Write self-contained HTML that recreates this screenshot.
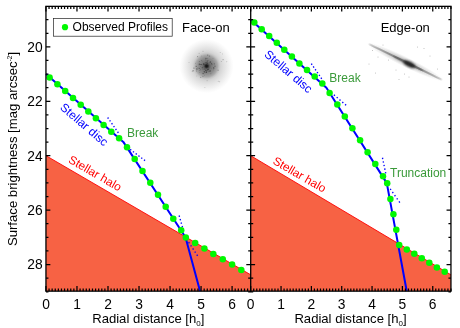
<!DOCTYPE html>
<html><head><meta charset="utf-8"><style>html,body{margin:0;padding:0;background:#fff}svg{display:block;will-change:transform}</style></head><body>
<svg width="460" height="328" viewBox="0 0 460 328">
<defs>
<radialGradient id="gal" cx="50%" cy="50%" r="50%"><stop offset="0" stop-color="#141414"/><stop offset="0.045" stop-color="#242424"/><stop offset="0.1" stop-color="#5c5c5c"/><stop offset="0.18" stop-color="#7a7a7a"/><stop offset="0.3" stop-color="#8e8e8e"/><stop offset="0.4" stop-color="#a8a8a8"/><stop offset="0.46" stop-color="#c4c4c4"/><stop offset="0.52" stop-color="#d4d4d4"/><stop offset="0.62" stop-color="#dfdfdf"/><stop offset="0.76" stop-color="#ececec"/><stop offset="0.9" stop-color="#f8f8f8"/><stop offset="1" stop-color="#ffffff"/></radialGradient>
<radialGradient id="edge" cx="50%" cy="50%" r="50%"><stop offset="0" stop-color="#000" stop-opacity="0.95"/><stop offset="0.15" stop-color="#222" stop-opacity="0.75"/><stop offset="0.5" stop-color="#555" stop-opacity="0.4"/><stop offset="1" stop-color="#999" stop-opacity="0"/></radialGradient>
<radialGradient id="edge2" cx="50%" cy="50%" r="50%"><stop offset="0" stop-color="#555" stop-opacity="0.5"/><stop offset="0.5" stop-color="#777" stop-opacity="0.28"/><stop offset="1" stop-color="#999" stop-opacity="0"/></radialGradient>
<filter id="b1" x="-20%" y="-300%" width="140%" height="700%"><feGaussianBlur stdDeviation="0.7"/></filter>
<filter id="b2" x="-50%" y="-100%" width="200%" height="300%"><feGaussianBlur stdDeviation="1.1"/></filter>
<clipPath id="cl"><rect x="45.95" y="6.35" width="204.75" height="284.8"/></clipPath>
<clipPath id="cr"><rect x="250.7" y="6.35" width="200.25" height="284.8"/></clipPath>
</defs>
<rect width="460" height="328" fill="#fff"/>
<polygon points="46.0,155.7 250.7,274.8 250.7,291.1 46.0,291.1" fill="#f76244"/>
<line x1="46.0" y1="155.7" x2="250.7" y2="274.8" stroke="#ff0000" stroke-width="0.9"/>
<polygon points="250.7,155.7 450.9,274.8 450.9,291.1 250.7,291.1" fill="#f76244"/>
<line x1="250.7" y1="155.7" x2="450.9" y2="274.8" stroke="#ff0000" stroke-width="0.9"/>
<circle cx="206.6" cy="66.1" r="27" fill="url(#gal)"/>
<circle cx="208.9" cy="71.4" r="0.61" fill="#222" opacity="0.28"/><circle cx="199.8" cy="72.7" r="0.37" fill="#222" opacity="0.43"/><circle cx="202.7" cy="67.8" r="0.38" fill="#222" opacity="0.28"/><circle cx="208.7" cy="60.7" r="0.40" fill="#222" opacity="0.33"/><circle cx="214.3" cy="63.8" r="0.58" fill="#222" opacity="0.39"/><circle cx="218.1" cy="70.3" r="0.69" fill="#222" opacity="0.25"/><circle cx="208.4" cy="69.3" r="0.47" fill="#222" opacity="0.54"/><circle cx="201.5" cy="64.6" r="0.61" fill="#222" opacity="0.38"/><circle cx="213.3" cy="69.8" r="0.37" fill="#222" opacity="0.32"/><circle cx="196.4" cy="70.9" r="0.48" fill="#222" opacity="0.45"/><circle cx="203.1" cy="73.5" r="0.67" fill="#222" opacity="0.49"/><circle cx="200.8" cy="64.5" r="0.56" fill="#222" opacity="0.56"/><circle cx="202.9" cy="76.4" r="0.74" fill="#222" opacity="0.20"/><circle cx="205.7" cy="60.0" r="0.41" fill="#222" opacity="0.42"/><circle cx="204.0" cy="64.3" r="0.66" fill="#222" opacity="0.45"/><circle cx="200.7" cy="77.3" r="0.63" fill="#222" opacity="0.32"/><circle cx="196.9" cy="69.0" r="0.69" fill="#222" opacity="0.58"/><circle cx="201.4" cy="60.4" r="0.37" fill="#222" opacity="0.50"/><circle cx="215.0" cy="66.3" r="0.68" fill="#222" opacity="0.35"/><circle cx="202.1" cy="61.1" r="0.36" fill="#222" opacity="0.41"/><circle cx="208.6" cy="69.5" r="0.37" fill="#222" opacity="0.52"/><circle cx="205.5" cy="70.4" r="0.51" fill="#222" opacity="0.55"/><circle cx="202.2" cy="67.7" r="0.57" fill="#222" opacity="0.56"/><circle cx="213.0" cy="58.5" r="0.46" fill="#222" opacity="0.28"/><circle cx="210.2" cy="62.6" r="0.73" fill="#222" opacity="0.30"/><circle cx="205.9" cy="70.9" r="0.44" fill="#222" opacity="0.42"/><circle cx="204.7" cy="75.2" r="0.35" fill="#222" opacity="0.40"/><circle cx="199.4" cy="64.2" r="0.73" fill="#222" opacity="0.49"/><circle cx="199.4" cy="61.5" r="0.62" fill="#222" opacity="0.27"/><circle cx="207.7" cy="55.1" r="0.70" fill="#222" opacity="0.37"/><circle cx="199.9" cy="70.5" r="0.39" fill="#222" opacity="0.47"/><circle cx="208.3" cy="67.9" r="0.43" fill="#222" opacity="0.31"/><circle cx="211.3" cy="68.6" r="0.35" fill="#222" opacity="0.30"/><circle cx="203.0" cy="69.3" r="0.36" fill="#222" opacity="0.56"/><circle cx="210.9" cy="73.8" r="0.45" fill="#222" opacity="0.37"/><circle cx="210.1" cy="71.0" r="0.69" fill="#222" opacity="0.60"/><circle cx="197.8" cy="67.4" r="0.38" fill="#222" opacity="0.29"/><circle cx="204.8" cy="72.6" r="0.68" fill="#222" opacity="0.31"/><circle cx="208.0" cy="65.9" r="0.56" fill="#222" opacity="0.30"/><circle cx="213.8" cy="68.1" r="0.56" fill="#222" opacity="0.59"/><circle cx="201.4" cy="55.9" r="0.45" fill="#222" opacity="0.26"/><circle cx="206.0" cy="62.6" r="0.56" fill="#222" opacity="0.52"/><circle cx="206.4" cy="72.4" r="0.67" fill="#222" opacity="0.59"/><circle cx="209.5" cy="56.1" r="0.68" fill="#222" opacity="0.36"/><circle cx="200.4" cy="66.2" r="0.49" fill="#222" opacity="0.26"/><circle cx="204.9" cy="69.3" r="0.45" fill="#222" opacity="0.49"/><circle cx="193.1" cy="70.7" r="0.72" fill="#222" opacity="0.42"/><circle cx="196.8" cy="76.0" r="0.44" fill="#222" opacity="0.23"/><circle cx="206.7" cy="70.9" r="0.60" fill="#222" opacity="0.57"/><circle cx="193.8" cy="68.1" r="0.61" fill="#222" opacity="0.37"/><circle cx="203.6" cy="63.9" r="0.71" fill="#222" opacity="0.52"/><circle cx="194.8" cy="68.1" r="0.42" fill="#222" opacity="0.37"/><circle cx="207.3" cy="61.1" r="0.74" fill="#222" opacity="0.39"/><circle cx="211.9" cy="64.5" r="0.64" fill="#222" opacity="0.31"/><circle cx="207.7" cy="69.7" r="0.71" fill="#222" opacity="0.53"/><circle cx="207.3" cy="63.2" r="0.74" fill="#222" opacity="0.48"/><circle cx="199.3" cy="64.9" r="0.40" fill="#222" opacity="0.25"/><circle cx="197.6" cy="56.6" r="0.56" fill="#222" opacity="0.40"/><circle cx="210.4" cy="61.7" r="0.68" fill="#222" opacity="0.32"/><circle cx="204.0" cy="71.5" r="0.45" fill="#222" opacity="0.46"/><circle cx="200.7" cy="69.2" r="0.40" fill="#222" opacity="0.57"/><circle cx="199.2" cy="68.3" r="0.58" fill="#222" opacity="0.57"/><circle cx="211.6" cy="63.4" r="0.55" fill="#222" opacity="0.44"/><circle cx="213.6" cy="67.6" r="0.53" fill="#222" opacity="0.31"/><circle cx="206.2" cy="64.4" r="0.42" fill="#222" opacity="0.42"/><circle cx="195.6" cy="63.2" r="0.48" fill="#222" opacity="0.30"/><circle cx="207.2" cy="58.7" r="0.39" fill="#222" opacity="0.45"/><circle cx="204.5" cy="71.6" r="0.66" fill="#222" opacity="0.43"/><circle cx="205.9" cy="58.5" r="0.71" fill="#222" opacity="0.41"/><circle cx="196.2" cy="66.4" r="0.55" fill="#222" opacity="0.49"/><circle cx="189.0" cy="62.4" r="0.45" fill="#444" opacity="0.45"/><circle cx="222.8" cy="59.7" r="0.45" fill="#444" opacity="0.45"/><circle cx="220.2" cy="52.4" r="0.45" fill="#444" opacity="0.45"/><circle cx="204.9" cy="87.6" r="0.45" fill="#444" opacity="0.45"/><circle cx="223.5" cy="59.7" r="0.45" fill="#444" opacity="0.45"/><circle cx="219.7" cy="81.8" r="0.45" fill="#444" opacity="0.45"/><circle cx="192.2" cy="71.4" r="0.45" fill="#444" opacity="0.45"/><circle cx="207.1" cy="80.7" r="0.45" fill="#444" opacity="0.45"/><circle cx="199.1" cy="53.3" r="0.45" fill="#444" opacity="0.45"/><circle cx="222.4" cy="53.9" r="0.45" fill="#444" opacity="0.45"/><circle cx="203.0" cy="51.2" r="0.45" fill="#444" opacity="0.45"/><circle cx="218.2" cy="81.2" r="0.45" fill="#444" opacity="0.45"/><circle cx="226.8" cy="61.8" r="0.45" fill="#444" opacity="0.45"/><circle cx="221.3" cy="61.5" r="0.45" fill="#444" opacity="0.45"/>
<g transform="translate(405.4,61.9) rotate(26.1)"><ellipse cx="0" cy="0" rx="43" ry="5.2" fill="url(#edge2)"/><ellipse cx="0" cy="0" rx="41" ry="1.0" fill="#707070" opacity="0.7" filter="url(#b1)"/><ellipse cx="3" cy="0.2" rx="17" ry="1.6" fill="#555" opacity="0.55" filter="url(#b1)"/><ellipse cx="4.5" cy="0.3" rx="6.5" ry="2.6" fill="#1c1c1c" opacity="0.9" filter="url(#b2)"/></g>
<circle cx="372.5" cy="50.5" r="0.5" fill="#555" opacity="0.45"/><circle cx="388.5" cy="60.0" r="0.5" fill="#555" opacity="0.45"/><circle cx="378.0" cy="57.0" r="0.5" fill="#555" opacity="0.45"/><circle cx="396.0" cy="70.0" r="0.5" fill="#555" opacity="0.45"/><circle cx="404.5" cy="74.0" r="0.5" fill="#555" opacity="0.45"/><circle cx="399.0" cy="79.5" r="0.5" fill="#555" opacity="0.45"/><circle cx="375.5" cy="73.0" r="0.5" fill="#555" opacity="0.45"/><circle cx="417.5" cy="47.0" r="0.5" fill="#555" opacity="0.45"/><circle cx="424.0" cy="48.5" r="0.5" fill="#555" opacity="0.45"/><circle cx="437.5" cy="69.0" r="0.5" fill="#555" opacity="0.45"/><circle cx="409.0" cy="77.0" r="0.5" fill="#555" opacity="0.45"/><circle cx="430.0" cy="56.0" r="0.5" fill="#555" opacity="0.45"/><circle cx="369.0" cy="64.0" r="0.5" fill="#555" opacity="0.45"/><circle cx="383.0" cy="45.0" r="0.5" fill="#555" opacity="0.45"/>
<polyline points="46.0,74.1 123.3,141.9 185.5,237.3 200.0,291.0" fill="none" stroke="#0000ff" stroke-width="2" stroke-linejoin="round"/>
<polyline points="250.7,19.7 326.4,87.7 386.8,183.1 406.7,291.0" fill="none" stroke="#0000ff" stroke-width="2" stroke-linejoin="round"/>
<line x1="107.66" y1="117.50" x2="118.34" y2="132.85" stroke="#0000ff" stroke-width="1.35" stroke-dasharray="1.35 2.12"/>
<line x1="130.16" y1="149.39" x2="145.04" y2="160.61" stroke="#0000ff" stroke-width="1.35" stroke-dasharray="1.35 2.11"/>
<line x1="179.11" y1="215.55" x2="182.49" y2="227.25" stroke="#0000ff" stroke-width="1.35" stroke-dasharray="1.35 2.26"/>
<line x1="188.63" y1="242.13" x2="197.57" y2="255.87" stroke="#0000ff" stroke-width="1.35" stroke-dasharray="1.35 2.41"/>
<line x1="311.32" y1="63.64" x2="321.68" y2="78.76" stroke="#0000ff" stroke-width="1.35" stroke-dasharray="1.35 2.05"/>
<line x1="333.89" y1="94.86" x2="346.11" y2="105.24" stroke="#0000ff" stroke-width="1.35" stroke-dasharray="1.35 2.32"/>
<line x1="382.46" y1="157.74" x2="385.74" y2="173.36" stroke="#0000ff" stroke-width="1.35" stroke-dasharray="1.35 2.30"/>
<line x1="390.21" y1="188.85" x2="399.79" y2="202.55" stroke="#0000ff" stroke-width="1.35" stroke-dasharray="1.35 2.49"/>
<circle cx="49.6" cy="77.4" r="3.25" fill="#00f800"/>
<circle cx="57.4" cy="84.2" r="3.25" fill="#00f800"/>
<circle cx="65.2" cy="91.0" r="3.25" fill="#00f800"/>
<circle cx="73.0" cy="97.9" r="3.25" fill="#00f800"/>
<circle cx="80.7" cy="104.7" r="3.25" fill="#00f800"/>
<circle cx="88.3" cy="111.5" r="3.25" fill="#00f800"/>
<circle cx="95.9" cy="118.3" r="3.25" fill="#00f800"/>
<circle cx="103.6" cy="125.0" r="3.25" fill="#00f800"/>
<circle cx="111.3" cy="131.7" r="3.25" fill="#00f800"/>
<circle cx="119.1" cy="138.2" r="3.25" fill="#00f800"/>
<circle cx="127.0" cy="147.2" r="3.25" fill="#00f800"/>
<circle cx="134.7" cy="159.0" r="3.25" fill="#00f800"/>
<circle cx="142.5" cy="170.9" r="3.25" fill="#00f800"/>
<circle cx="150.3" cy="182.7" r="3.25" fill="#00f800"/>
<circle cx="158.0" cy="194.7" r="3.25" fill="#00f800"/>
<circle cx="165.7" cy="206.8" r="3.25" fill="#00f800"/>
<circle cx="173.3" cy="218.7" r="3.25" fill="#00f800"/>
<circle cx="181.2" cy="230.3" r="3.25" fill="#00f800"/>
<circle cx="185.8" cy="237.6" r="3.25" fill="#00f800"/>
<circle cx="195.2" cy="243.0" r="3.25" fill="#00f800"/>
<circle cx="204.4" cy="248.6" r="3.25" fill="#00f800"/>
<circle cx="213.3" cy="254.0" r="3.25" fill="#00f800"/>
<circle cx="222.8" cy="259.3" r="3.25" fill="#00f800"/>
<circle cx="232.1" cy="264.6" r="3.25" fill="#00f800"/>
<circle cx="241.3" cy="270.0" r="3.25" fill="#00f800"/>
<circle cx="254.3" cy="22.5" r="3.25" fill="#00f800"/>
<circle cx="261.7" cy="29.2" r="3.25" fill="#00f800"/>
<circle cx="269.2" cy="35.9" r="3.25" fill="#00f800"/>
<circle cx="276.8" cy="42.8" r="3.25" fill="#00f800"/>
<circle cx="284.3" cy="49.7" r="3.25" fill="#00f800"/>
<circle cx="291.9" cy="56.6" r="3.25" fill="#00f800"/>
<circle cx="299.4" cy="63.4" r="3.25" fill="#00f800"/>
<circle cx="307.0" cy="70.0" r="3.25" fill="#00f800"/>
<circle cx="314.7" cy="76.6" r="3.25" fill="#00f800"/>
<circle cx="322.3" cy="83.6" r="3.25" fill="#00f800"/>
<circle cx="329.6" cy="93.0" r="3.25" fill="#00f800"/>
<circle cx="337.3" cy="104.5" r="3.25" fill="#00f800"/>
<circle cx="344.8" cy="116.5" r="3.25" fill="#00f800"/>
<circle cx="352.4" cy="128.3" r="3.25" fill="#00f800"/>
<circle cx="360.1" cy="140.3" r="3.25" fill="#00f800"/>
<circle cx="367.6" cy="152.3" r="3.25" fill="#00f800"/>
<circle cx="375.3" cy="164.1" r="3.25" fill="#00f800"/>
<circle cx="383.0" cy="176.2" r="3.25" fill="#00f800"/>
<circle cx="387.2" cy="183.3" r="3.25" fill="#00f800"/>
<circle cx="390.4" cy="199.0" r="3.25" fill="#00f800"/>
<circle cx="393.4" cy="214.3" r="3.25" fill="#00f800"/>
<circle cx="396.3" cy="229.8" r="3.25" fill="#00f800"/>
<circle cx="399.2" cy="245.1" r="3.25" fill="#00f800"/>
<circle cx="406.8" cy="249.5" r="3.25" fill="#00f800"/>
<circle cx="414.3" cy="253.8" r="3.25" fill="#00f800"/>
<circle cx="421.8" cy="258.2" r="3.25" fill="#00f800"/>
<circle cx="429.3" cy="262.8" r="3.25" fill="#00f800"/>
<circle cx="436.9" cy="267.4" r="3.25" fill="#00f800"/>
<circle cx="444.7" cy="271.8" r="3.25" fill="#00f800"/>
<g stroke="#000" stroke-width="1.3" fill="none">
<rect x="45.95" y="6.35" width="405" height="284.8"/>
<line x1="250.7" y1="6.35" x2="250.7" y2="291.15"/>
</g>
<path d="M45.95 291.15v-5.20M45.95 6.35v5.20M49.05 291.15v-2.70M49.05 6.35v2.70M52.15 291.15v-2.70M52.15 6.35v2.70M55.26 291.15v-2.70M55.26 6.35v2.70M58.36 291.15v-2.70M58.36 6.35v2.70M61.46 291.15v-2.70M61.46 6.35v2.70M64.56 291.15v-2.70M64.56 6.35v2.70M67.67 291.15v-2.70M67.67 6.35v2.70M70.77 291.15v-2.70M70.77 6.35v2.70M73.87 291.15v-2.70M73.87 6.35v2.70M76.97 291.15v-5.20M76.97 6.35v5.20M80.08 291.15v-2.70M80.08 6.35v2.70M83.18 291.15v-2.70M83.18 6.35v2.70M86.28 291.15v-2.70M86.28 6.35v2.70M89.38 291.15v-2.70M89.38 6.35v2.70M92.48 291.15v-2.70M92.48 6.35v2.70M95.59 291.15v-2.70M95.59 6.35v2.70M98.69 291.15v-2.70M98.69 6.35v2.70M101.79 291.15v-2.70M101.79 6.35v2.70M104.89 291.15v-2.70M104.89 6.35v2.70M108.00 291.15v-5.20M108.00 6.35v5.20M111.10 291.15v-2.70M111.10 6.35v2.70M114.20 291.15v-2.70M114.20 6.35v2.70M117.30 291.15v-2.70M117.30 6.35v2.70M120.40 291.15v-2.70M120.40 6.35v2.70M123.51 291.15v-2.70M123.51 6.35v2.70M126.61 291.15v-2.70M126.61 6.35v2.70M129.71 291.15v-2.70M129.71 6.35v2.70M132.81 291.15v-2.70M132.81 6.35v2.70M135.92 291.15v-2.70M135.92 6.35v2.70M139.02 291.15v-5.20M139.02 6.35v5.20M142.12 291.15v-2.70M142.12 6.35v2.70M145.22 291.15v-2.70M145.22 6.35v2.70M148.32 291.15v-2.70M148.32 6.35v2.70M151.43 291.15v-2.70M151.43 6.35v2.70M154.53 291.15v-2.70M154.53 6.35v2.70M157.63 291.15v-2.70M157.63 6.35v2.70M160.73 291.15v-2.70M160.73 6.35v2.70M163.84 291.15v-2.70M163.84 6.35v2.70M166.94 291.15v-2.70M166.94 6.35v2.70M170.04 291.15v-5.20M170.04 6.35v5.20M173.14 291.15v-2.70M173.14 6.35v2.70M176.25 291.15v-2.70M176.25 6.35v2.70M179.35 291.15v-2.70M179.35 6.35v2.70M182.45 291.15v-2.70M182.45 6.35v2.70M185.55 291.15v-2.70M185.55 6.35v2.70M188.65 291.15v-2.70M188.65 6.35v2.70M191.76 291.15v-2.70M191.76 6.35v2.70M194.86 291.15v-2.70M194.86 6.35v2.70M197.96 291.15v-2.70M197.96 6.35v2.70M201.06 291.15v-5.20M201.06 6.35v5.20M204.17 291.15v-2.70M204.17 6.35v2.70M207.27 291.15v-2.70M207.27 6.35v2.70M210.37 291.15v-2.70M210.37 6.35v2.70M213.47 291.15v-2.70M213.47 6.35v2.70M216.57 291.15v-2.70M216.57 6.35v2.70M219.68 291.15v-2.70M219.68 6.35v2.70M222.78 291.15v-2.70M222.78 6.35v2.70M225.88 291.15v-2.70M225.88 6.35v2.70M228.98 291.15v-2.70M228.98 6.35v2.70M232.09 291.15v-5.20M232.09 6.35v5.20M235.19 291.15v-2.70M235.19 6.35v2.70M238.29 291.15v-2.70M238.29 6.35v2.70M241.39 291.15v-2.70M241.39 6.35v2.70M244.50 291.15v-2.70M244.50 6.35v2.70M247.60 291.15v-2.70M247.60 6.35v2.70M250.70 291.15v-2.70M250.70 6.35v2.70M250.70 291.15v-5.20M250.70 6.35v5.20M253.73 291.15v-2.70M253.73 6.35v2.70M256.77 291.15v-2.70M256.77 6.35v2.70M259.80 291.15v-2.70M259.80 6.35v2.70M262.84 291.15v-2.70M262.84 6.35v2.70M265.87 291.15v-2.70M265.87 6.35v2.70M268.90 291.15v-2.70M268.90 6.35v2.70M271.94 291.15v-2.70M271.94 6.35v2.70M274.97 291.15v-2.70M274.97 6.35v2.70M278.01 291.15v-2.70M278.01 6.35v2.70M281.04 291.15v-5.20M281.04 6.35v5.20M284.07 291.15v-2.70M284.07 6.35v2.70M287.11 291.15v-2.70M287.11 6.35v2.70M290.14 291.15v-2.70M290.14 6.35v2.70M293.18 291.15v-2.70M293.18 6.35v2.70M296.21 291.15v-2.70M296.21 6.35v2.70M299.25 291.15v-2.70M299.25 6.35v2.70M302.28 291.15v-2.70M302.28 6.35v2.70M305.31 291.15v-2.70M305.31 6.35v2.70M308.35 291.15v-2.70M308.35 6.35v2.70M311.38 291.15v-5.20M311.38 6.35v5.20M314.42 291.15v-2.70M314.42 6.35v2.70M317.45 291.15v-2.70M317.45 6.35v2.70M320.48 291.15v-2.70M320.48 6.35v2.70M323.52 291.15v-2.70M323.52 6.35v2.70M326.55 291.15v-2.70M326.55 6.35v2.70M329.59 291.15v-2.70M329.59 6.35v2.70M332.62 291.15v-2.70M332.62 6.35v2.70M335.65 291.15v-2.70M335.65 6.35v2.70M338.69 291.15v-2.70M338.69 6.35v2.70M341.72 291.15v-5.20M341.72 6.35v5.20M344.76 291.15v-2.70M344.76 6.35v2.70M347.79 291.15v-2.70M347.79 6.35v2.70M350.82 291.15v-2.70M350.82 6.35v2.70M353.86 291.15v-2.70M353.86 6.35v2.70M356.89 291.15v-2.70M356.89 6.35v2.70M359.93 291.15v-2.70M359.93 6.35v2.70M362.96 291.15v-2.70M362.96 6.35v2.70M366.00 291.15v-2.70M366.00 6.35v2.70M369.03 291.15v-2.70M369.03 6.35v2.70M372.06 291.15v-5.20M372.06 6.35v5.20M375.10 291.15v-2.70M375.10 6.35v2.70M378.13 291.15v-2.70M378.13 6.35v2.70M381.17 291.15v-2.70M381.17 6.35v2.70M384.20 291.15v-2.70M384.20 6.35v2.70M387.23 291.15v-2.70M387.23 6.35v2.70M390.27 291.15v-2.70M390.27 6.35v2.70M393.30 291.15v-2.70M393.30 6.35v2.70M396.34 291.15v-2.70M396.34 6.35v2.70M399.37 291.15v-2.70M399.37 6.35v2.70M402.40 291.15v-5.20M402.40 6.35v5.20M405.44 291.15v-2.70M405.44 6.35v2.70M408.47 291.15v-2.70M408.47 6.35v2.70M411.51 291.15v-2.70M411.51 6.35v2.70M414.54 291.15v-2.70M414.54 6.35v2.70M417.57 291.15v-2.70M417.57 6.35v2.70M420.61 291.15v-2.70M420.61 6.35v2.70M423.64 291.15v-2.70M423.64 6.35v2.70M426.68 291.15v-2.70M426.68 6.35v2.70M429.71 291.15v-2.70M429.71 6.35v2.70M432.75 291.15v-5.20M432.75 6.35v5.20M435.78 291.15v-2.70M435.78 6.35v2.70M438.81 291.15v-2.70M438.81 6.35v2.70M441.85 291.15v-2.70M441.85 6.35v2.70M444.88 291.15v-2.70M444.88 6.35v2.70M447.92 291.15v-2.70M447.92 6.35v2.70M450.95 291.15v-2.70M450.95 6.35v2.70M45.95 19.66h2.50M248.20 19.66h5.00M450.95 19.66h-2.50M45.95 33.27h2.50M248.20 33.27h5.00M450.95 33.27h-2.50M45.95 46.87h4.40M246.30 46.87h8.80M450.95 46.87h-4.40M45.95 60.47h2.50M248.20 60.47h5.00M450.95 60.47h-2.50M45.95 74.08h2.50M248.20 74.08h5.00M450.95 74.08h-2.50M45.95 87.69h2.50M248.20 87.69h5.00M450.95 87.69h-2.50M45.95 101.29h4.40M246.30 101.29h8.80M450.95 101.29h-4.40M45.95 114.90h2.50M248.20 114.90h5.00M450.95 114.90h-2.50M45.95 128.50h2.50M248.20 128.50h5.00M450.95 128.50h-2.50M45.95 142.10h2.50M248.20 142.10h5.00M450.95 142.10h-2.50M45.95 155.71h4.40M246.30 155.71h8.80M450.95 155.71h-4.40M45.95 169.31h2.50M248.20 169.31h5.00M450.95 169.31h-2.50M45.95 182.92h2.50M248.20 182.92h5.00M450.95 182.92h-2.50M45.95 196.53h2.50M248.20 196.53h5.00M450.95 196.53h-2.50M45.95 210.13h4.40M246.30 210.13h8.80M450.95 210.13h-4.40M45.95 223.74h2.50M248.20 223.74h5.00M450.95 223.74h-2.50M45.95 237.34h2.50M248.20 237.34h5.00M450.95 237.34h-2.50M45.95 250.95h2.50M248.20 250.95h5.00M450.95 250.95h-2.50M45.95 264.55h4.40M246.30 264.55h8.80M450.95 264.55h-4.40M45.95 278.15h2.50M248.20 278.15h5.00M450.95 278.15h-2.50M45.95 291.76h2.50M248.20 291.76h5.00M450.95 291.76h-2.50" stroke="#000" stroke-width="1.25" fill="none"/>
<g font-family="'Liberation Sans', sans-serif" fill="#000">
<rect x="53.5" y="18.4" width="118.7" height="17.8" fill="#fff" stroke="#222" stroke-width="0.7"/>
<circle cx="65" cy="27.2" r="3.1" fill="#00f800"/>
<text x="72.6" y="30.6" font-size="12">Observed Profiles</text>
<text x="182.0" y="32.0" font-size="13">Face-on</text>
<text x="380.7" y="32.4" font-size="13">Edge-on</text>
<text x="127" y="136.6" font-size="12" fill="#3a9a3a">Break</text>
<text x="329.3" y="82.4" font-size="12" fill="#3a9a3a">Break</text>
<text x="390" y="177.2" font-size="12" fill="#3a9a3a">Truncation</text>
<text transform="translate(59.2,108.6) rotate(40.5)" font-size="12" fill="#0000ff">Stellar disc</text>
<text transform="translate(263.5,55.5) rotate(40.5)" font-size="12" fill="#0000ff">Stellar disc</text>
<text transform="translate(67.6,162.0) rotate(30)" font-size="11.8" fill="#ff0000">Stellar halo</text>
<text transform="translate(272,163.3) rotate(30)" font-size="11.8" fill="#ff0000">Stellar halo</text>
<text x="46.0" y="308.7" font-size="13.8" text-anchor="middle">0</text>
<text x="250.7" y="308.7" font-size="13.8" text-anchor="middle">0</text>
<text x="77.0" y="308.7" font-size="13.8" text-anchor="middle">1</text>
<text x="281.0" y="308.7" font-size="13.8" text-anchor="middle">1</text>
<text x="108.0" y="308.7" font-size="13.8" text-anchor="middle">2</text>
<text x="311.4" y="308.7" font-size="13.8" text-anchor="middle">2</text>
<text x="139.0" y="308.7" font-size="13.8" text-anchor="middle">3</text>
<text x="341.7" y="308.7" font-size="13.8" text-anchor="middle">3</text>
<text x="170.0" y="308.7" font-size="13.8" text-anchor="middle">4</text>
<text x="372.1" y="308.7" font-size="13.8" text-anchor="middle">4</text>
<text x="201.1" y="308.7" font-size="13.8" text-anchor="middle">5</text>
<text x="402.4" y="308.7" font-size="13.8" text-anchor="middle">5</text>
<text x="232.1" y="308.7" font-size="13.8" text-anchor="middle">6</text>
<text x="432.7" y="308.7" font-size="13.8" text-anchor="middle">6</text>
<text x="42.7" y="51.7" font-size="13.8" text-anchor="end">20</text>
<text x="42.7" y="106.1" font-size="13.8" text-anchor="end">22</text>
<text x="42.7" y="160.5" font-size="13.8" text-anchor="end">24</text>
<text x="42.7" y="214.9" font-size="13.8" text-anchor="end">26</text>
<text x="42.7" y="269.4" font-size="13.8" text-anchor="end">28</text>
<text x="92.2" y="322.5" font-size="13.1">Radial distance [h<tspan font-size="8" dy="3">0</tspan><tspan dy="-3">]</tspan></text>
<text x="294.4" y="322.5" font-size="13.1">Radial distance [h<tspan font-size="8" dy="3">0</tspan><tspan dy="-3">]</tspan></text>
<text transform="translate(17.1,246.1) rotate(-90)" font-size="13.15">Surface brightness [mag arcsec<tspan font-size="6.5" dy="-5.5">-2</tspan><tspan dy="5.5">]</tspan></text>
</g>
</svg>
</body></html>
